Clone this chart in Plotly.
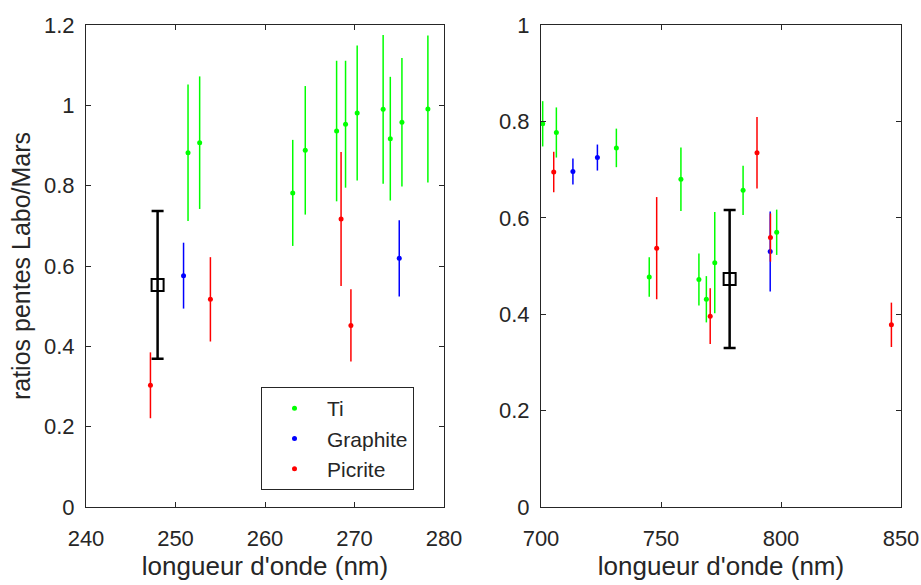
import plotly.graph_objects as go

# ---- Left panel (UV) data ----
ti_uv_x = [251.4, 252.7, 263.1, 264.5, 268.0, 269.0, 270.3, 273.2, 274.0, 275.3, 278.2]
ti_uv_y = [0.882, 0.907, 0.782, 0.888, 0.936, 0.953, 0.981, 0.990, 0.917, 0.958, 0.991]
ti_uv_e = [0.170, 0.165, 0.132, 0.160, 0.175, 0.158, 0.168, 0.185, 0.154, 0.160, 0.183]

gr_uv_x = [250.9, 275.0]
gr_uv_y = [0.576, 0.619]
gr_uv_e = [0.082, 0.095]

pi_uv_x = [247.2, 253.9, 268.5, 269.6]
pi_uv_y = [0.303, 0.517, 0.717, 0.452]
pi_uv_e = [0.082, 0.105, 0.167, 0.090]

mean_uv_x = [248.0]
mean_uv_y = [0.553]
mean_uv_e = [0.184]

# ---- Right panel (NIR) data ----
ti_ir_x = [700.7, 706.4, 731.4, 745.1, 758.3, 765.8, 768.9, 772.4, 784.2, 798.2]
ti_ir_y = [0.795, 0.777, 0.745, 0.477, 0.680, 0.472, 0.431, 0.507, 0.657, 0.570]
ti_ir_e = [0.047, 0.052, 0.040, 0.041, 0.066, 0.054, 0.048, 0.105, 0.051, 0.047]

gr_ir_x = [713.3, 723.5, 795.5]
gr_ir_y = [0.696, 0.725, 0.530]
gr_ir_e = [0.027, 0.027, 0.083]

pi_ir_x = [705.3, 748.2, 770.5, 790.0, 795.6, 846.0]
pi_ir_y = [0.695, 0.537, 0.396, 0.735, 0.559, 0.378]
pi_ir_e = [0.042, 0.106, 0.058, 0.074, 0.050, 0.046]

mean_ir_x = [778.6]
mean_ir_y = [0.473]
mean_ir_e = [0.143]

GREEN, BLUE, RED = "#00FF00", "#0000FF", "#FF0000"
FONT = "Liberation Sans"
TXT = "#262626"
TICK_SIZE = 22
LABEL_SIZE = 26

fig = go.Figure()


def series(x, y, e, color, name, xa, ya, show):
    fig.add_trace(go.Scatter(
        x=x, y=y, mode="markers", name=name, legendgroup=name, showlegend=show,
        marker=dict(color=color, size=5),
        error_y=dict(type="data", array=e, visible=True, color=color,
                     thickness=1.5, width=0),
        xaxis=xa, yaxis=ya))


def mean(x, y, e, xa, ya):
    fig.add_trace(go.Scatter(
        x=x, y=y, mode="markers", showlegend=False,
        marker=dict(symbol="square-open", size=12, color="black",
                    line=dict(width=2, color="black")),
        error_y=dict(type="data", array=e, visible=True, color="black",
                     thickness=2.5, width=6),
        xaxis=xa, yaxis=ya))


series(ti_uv_x, ti_uv_y, ti_uv_e, GREEN, "Ti", "x", "y", True)
series(gr_uv_x, gr_uv_y, gr_uv_e, BLUE, "Graphite", "x", "y", True)
series(pi_uv_x, pi_uv_y, pi_uv_e, RED, "Picrite", "x", "y", True)
mean(mean_uv_x, mean_uv_y, mean_uv_e, "x", "y")

series(ti_ir_x, ti_ir_y, ti_ir_e, GREEN, "Ti", "x2", "y2", False)
series(gr_ir_x, gr_ir_y, gr_ir_e, BLUE, "Graphite", "x2", "y2", False)
series(pi_ir_x, pi_ir_y, pi_ir_e, RED, "Picrite", "x2", "y2", False)
mean(mean_ir_x, mean_ir_y, mean_ir_e, "x2", "y2")

axis_common = dict(showline=True, linecolor=TXT, linewidth=1, mirror="allticks",
                   ticks="inside", ticklen=5, tickcolor=TXT, showgrid=False,
                   zeroline=False, automargin=False,
                   tickfont=dict(size=TICK_SIZE, color=TXT, family=FONT))

y_top = 1 - 25 / 585
y_bot = 1 - 507 / 585

fig.update_layout(
    width=921, height=585,
    margin=dict(l=0, r=0, t=0, b=0, autoexpand=False),
    paper_bgcolor="white", plot_bgcolor="white",
    font=dict(family=FONT, color=TXT, size=TICK_SIZE),
    xaxis=dict(domain=[86 / 921, 444 / 921], range=[240, 280], tickvals=[240, 250, 260, 270, 280],
               ticklabelstandoff=12,
               title=dict(text="longueur d'onde (nm)", font=dict(size=LABEL_SIZE), standoff=5),
               anchor="y", **axis_common),
    yaxis=dict(domain=[y_bot, y_top], range=[0, 1.2], tickvals=[0, 0.2, 0.4, 0.6, 0.8, 1.0, 1.2],
               ticktext=["0", "0.2", "0.4", "0.6", "0.8", "1", "1.2"], ticklabelstandoff=6,
               title=dict(text="ratios pentes Labo/Mars", font=dict(size=25), standoff=6),
               anchor="x", **axis_common),
    xaxis2=dict(domain=[541 / 921, 901 / 921], range=[700, 850], tickvals=[700, 750, 800, 850],
                ticklabelstandoff=12,
                title=dict(text="longueur d'onde (nm)", font=dict(size=LABEL_SIZE), standoff=5),
                anchor="y2", **axis_common),
    yaxis2=dict(domain=[y_bot, y_top], range=[0, 1], tickvals=[0, 0.2, 0.4, 0.6, 0.8, 1.0],
                ticktext=["0", "0.2", "0.4", "0.6", "0.8", "1"], ticklabelstandoff=6,
                anchor="x2", **axis_common),
    legend=dict(x=261 / 921, y=1 - 387 / 585, xanchor="left", yanchor="top",
                bgcolor="white", bordercolor=TXT, borderwidth=1,
                font=dict(size=21, color=TXT, family=FONT),
                itemwidth=55, tracegroupgap=0),
    showlegend=True,
)

fig.write_html("out.html", config={"displayModeBar": False},
               post_script="document.body.style.margin='0';")
